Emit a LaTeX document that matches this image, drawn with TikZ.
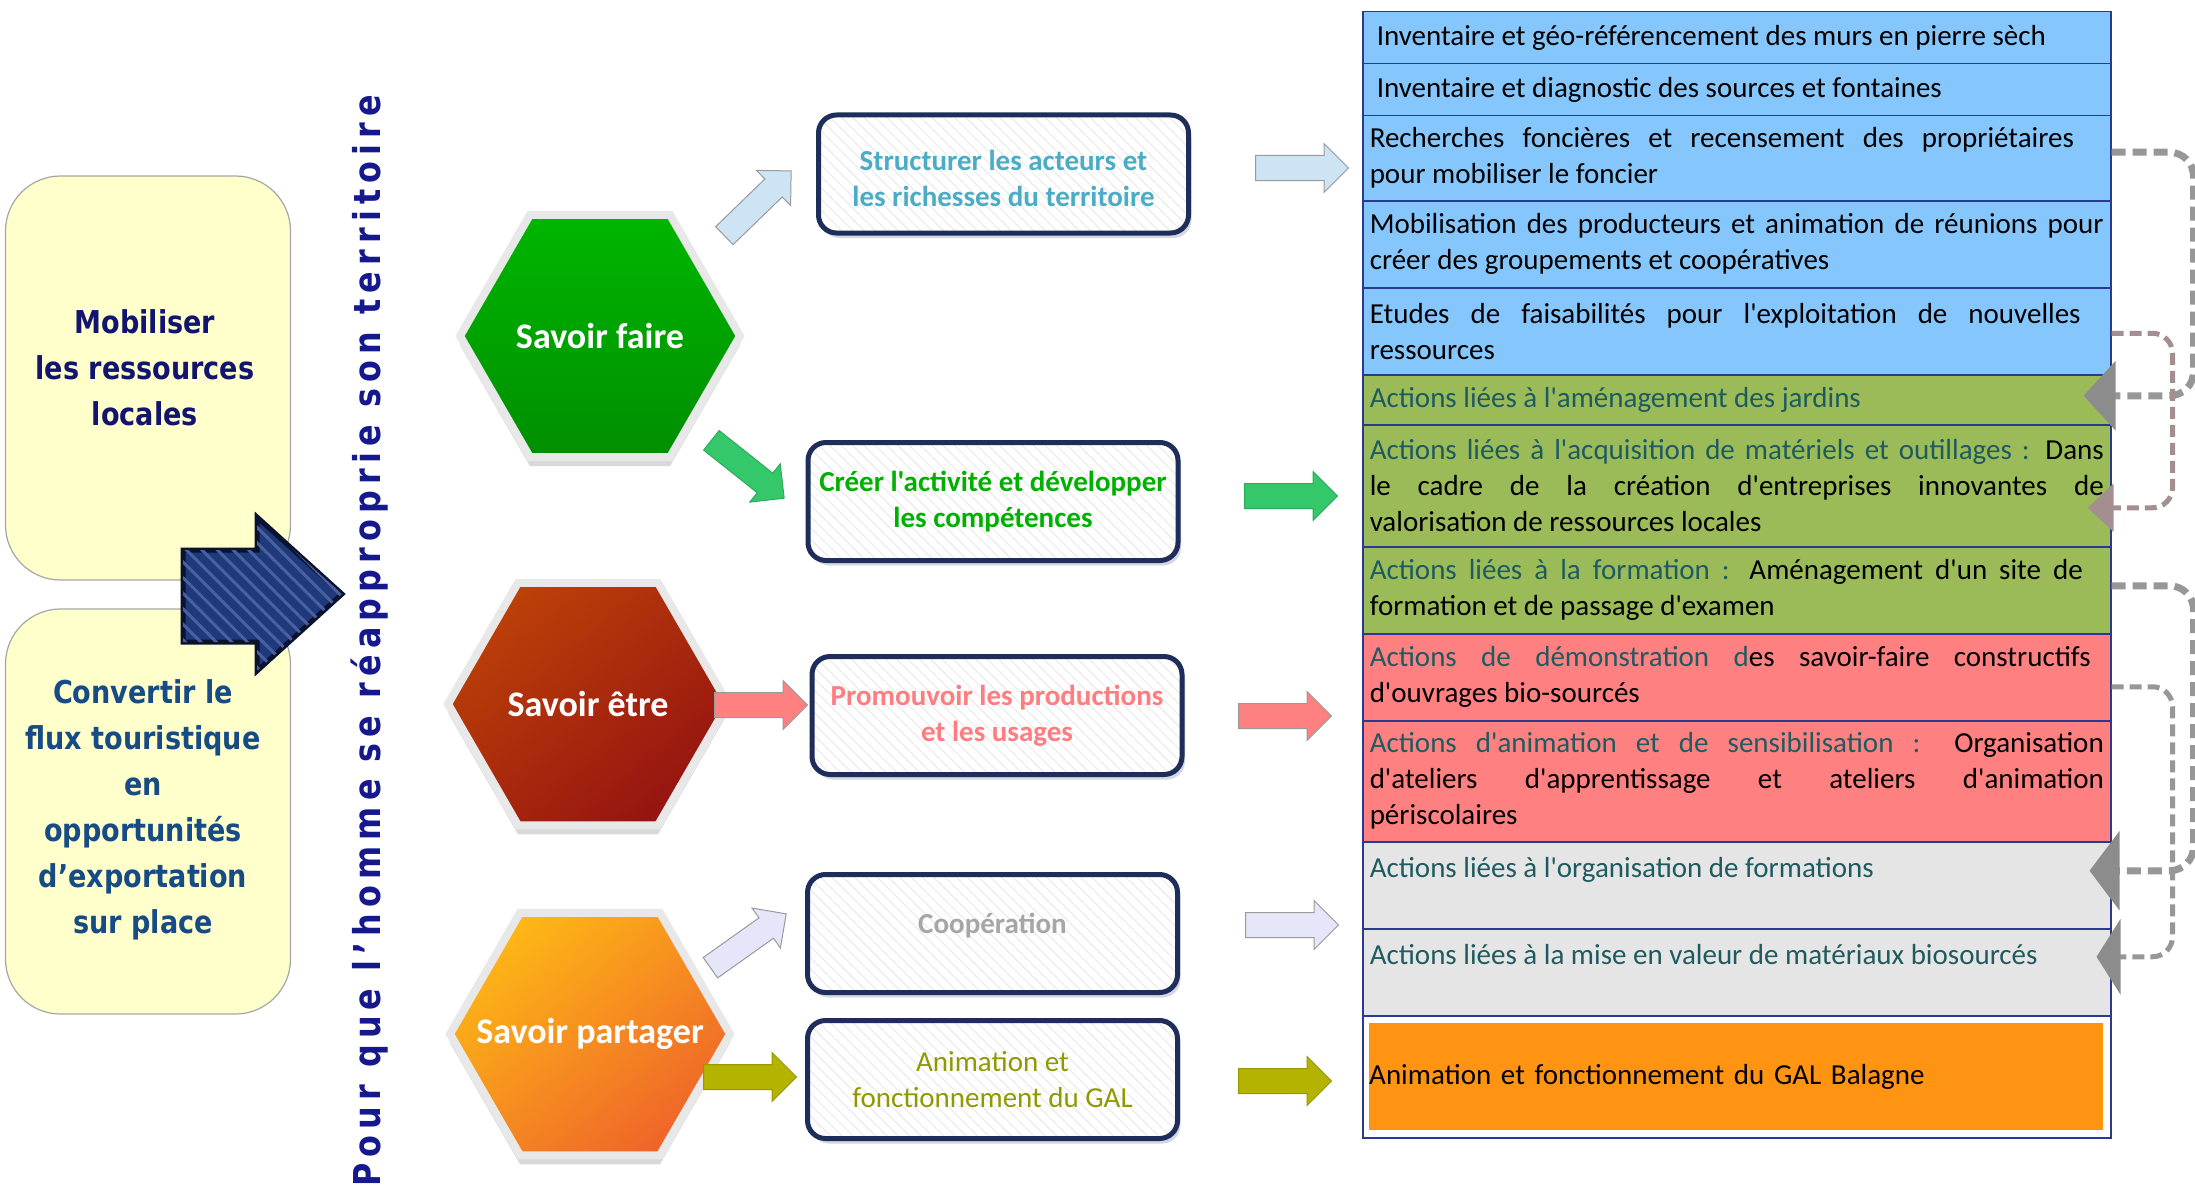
\documentclass[tikz,border=0pt]{standalone}
\usepackage{fontspec}
\setmainfont{Carlito}
\newfontfamily\calib{Carlito}
\newfontfamily\tahoma[FakeStretch=0.86]{DejaVu Sans}
\usetikzlibrary{shapes.geometric,shapes.arrows,arrows.meta,patterns.meta,shadows}
\tolerance=9000
\hyphenpenalty=10000
\exhyphenpenalty=10000
\hbadness=10000
\definecolor{bglight}{HTML}{FFFFCC}
\definecolor{leftedge}{HTML}{A6A6A6}
\definecolor{mobil}{HTML}{111570}
\definecolor{conv}{HTML}{164B85}
\definecolor{vtext}{HTML}{16198E}
\definecolor{navyfill}{HTML}{1F3A7A}
\definecolor{navystripe}{HTML}{4B60A0}
\definecolor{navyedge}{HTML}{0B1230}
\definecolor{sfTop}{HTML}{00B600}
\definecolor{sfBot}{HTML}{008E00}
\definecolor{seTop}{HTML}{BC4008}
\definecolor{seBot}{HTML}{961411}
\definecolor{spTop}{HTML}{FDB716}
\definecolor{spBot}{HTML}{EF6529}
\definecolor{boxedge}{HTML}{1F2D5A}
\definecolor{shadowc}{HTML}{7080A0}
\definecolor{cStruct}{HTML}{4BACC6}
\definecolor{cCreer}{HTML}{00B000}
\definecolor{cProm}{HTML}{FF7C80}
\definecolor{cCoop}{HTML}{A6A6A6}
\definecolor{cAnim}{HTML}{909A00}
\definecolor{aBlue}{HTML}{CDE4F4}
\definecolor{aGreen}{HTML}{35C86B}
\definecolor{aSalm}{HTML}{FF8080}
\definecolor{aLav}{HTML}{E6E6FA}
\definecolor{aOlive}{HTML}{B3B300}
\definecolor{arredge}{HTML}{9A9A9A}
\definecolor{rowblue}{HTML}{85C6FD}
\definecolor{rowgreen}{HTML}{9BBB59}
\definecolor{rowred}{HTML}{FF8080}
\definecolor{rowgray}{HTML}{E5E5E5}
\definecolor{roworange}{HTML}{FF9412}
\definecolor{tabedge}{HTML}{2B3990}
\definecolor{tealc}{HTML}{1E5B60}
\definecolor{dgray}{HTML}{979797}
\definecolor{dhead}{HTML}{8C8C8C}
\definecolor{drose}{HTML}{A38F8F}
\tikzset{
  leftbox/.style={rectangle, rounded corners=55, draw=leftedge, line width=1.2, fill=bglight},
  lefttxt/.style={align=center, inner sep=0, font=\tahoma\bfseries\fontsize{31.5}{46}\selectfont},
  hexa/.style={regular polygon, regular polygon sides=6, minimum size=280, inner sep=0,
    draw=black!9, line width=8,
    drop shadow={shadow xshift=0pt, shadow yshift=-9pt, opacity=.15, fill=black}},
  hextxt/.style={text=white, inner sep=0, font=\calib\bfseries\fontsize{36}{42}\selectfont},
  midbox/.style={rectangle, rounded corners=18, line width=5,
    minimum width=370, minimum height=118, inner sep=2, align=center,
    font=\calib\bfseries\fontsize{29}{36}\selectfont,
    drop shadow={shadow xshift=3pt, shadow yshift=-5pt, opacity=.3, fill=shadowc},
    preaction={fill=white},
    pattern={Lines[angle=-45,distance=8pt,line width=1.1pt]}, pattern color=black!8,
    draw=boxedge},
  barr/.style={single arrow, minimum height=93, text height=12pt, text depth=12pt, text width=0pt,
    single arrow head extend=12, single arrow tip angle=90, inner sep=0, anchor=tail,
    draw=arredge, line width=1},
  trow/.style={rectangle, draw=tabedge, line width=1.5, anchor=north west, inner xsep=7, inner ysep=0,
    text width=734, align=justify, font=\calib\fontsize{29}{36}\selectfont},
  dconA/.style={draw=dgray, line width=7, dash pattern=on 14pt off 7pt, rounded corners=24},
  dconB/.style={draw=#1, line width=5, dash pattern=on 12pt off 6pt, rounded corners=20},
}
\begin{document}
\begin{tikzpicture}[x=1pt,y=-1pt]
\useasboundingbox (0,0) rectangle (2195,1188);
\fill[white] (0,0) rectangle (2195,1188);

% left boxes
\node[leftbox, minimum width=285, minimum height=404] (lb1) at (148,378) {};
\node[leftbox, minimum width=285, minimum height=405] (lb2) at (148,811.5) {};
\node[lefttxt, text=mobil] (lt1) at (145,368) {Mobiliser\\les ressources\\locales};
\node[lefttxt, text=conv] (lt2) at (143,809.5) {Convertir le\\flux touristique\\en\\opportunités\\d’exportation\\sur place};

% big navy arrow
\path[draw=navyedge, line width=5, line join=miter, fill=navyfill,
  postaction={pattern={Lines[angle=-45,distance=11pt,line width=3pt]}, pattern color=navystripe}]
  (183,550) -- (257,550) -- (257,517) -- (342,594) -- (257,671) -- (257,642) -- (183,642) -- cycle;

% vertical text
\node[rotate=90, anchor=base, inner sep=0, text=vtext,
  font=\tahoma\bfseries\fontsize{37}{44}\selectfont\addfontfeature{LetterSpace=16.5}] (vt) at (380,641)
  {Pour que l’homme se réapproprie son territoire};

% hexagons
\node[hexa, top color=sfTop, bottom color=sfBot] (sf) at (600,336) {};
\node[hexa, top color=seTop, bottom color=seBot, shading angle=40] (se) at (588,704) {};
\node[hexa, top color=spTop, bottom color=spBot, shading angle=40] (sp) at (590,1034) {};
\node[hextxt] (sft) at (sf.center) {Savoir faire};
\node[hextxt] (set) at (se.center) {Savoir être};
\node[hextxt] (spt) at (sp.center) {Savoir partager};

% middle boxes
\node[midbox, text=cStruct] (b1) at (1003.5,174) {\smash{\raisebox{-14pt}{\begin{tabular}{@{}c@{}}Structurer les acteurs et\\les richesses du territoire\end{tabular}}}};
\node[midbox, text=cCreer] (b2) at (993,501.5) {Créer l'activité et développer\\les compétences};
\node[midbox, text=cProm] (b3) at (997,715.5) {Promouvoir les productions\\et les usages};
\node[midbox, text=cCoop] (b4) at (992.5,933.5) {\smash{Coopération}};
\node[midbox, text=cAnim, font=\calib\fontsize{29}{36}\selectfont] (b5) at (992.5,1079.5) {Animation et\\fonctionnement du GAL};

% block arrows hexagon -> boxes
\node[barr, fill=aBlue, rotate=44.1] (a1) at (724,236) {};
\node[barr, fill=aGreen, draw=aGreen!85!black, rotate=-38.5] (a2) at (711,440) {};
\node[barr, fill=aSalm, rotate=0] (a3) at (714,705) {};
\node[barr, fill=aLav, rotate=35.4] (a4) at (710,968) {};
\node[barr, fill=aOlive, draw=aOlive!85!black, rotate=0] (a5) at (703,1077) {};
% block arrows boxes -> table
\node[barr, fill=aBlue] (c1) at (1255,168) {};
\node[barr, fill=aGreen, draw=aGreen!85!black] (c2) at (1244,496) {};
\node[barr, fill=aSalm] (c3) at (1238,716) {};
\node[barr, fill=aLav] (c4) at (1245,925) {};
\node[barr, fill=aOlive, draw=aOlive!85!black] (c5) at (1238,1081) {};

% table
\node[trow, fill=rowblue, minimum height=52] (r1) at (1362,11) {\hspace*{7pt}Inventaire et géo-référencement des murs en pierre sèch};
\node[trow, fill=rowblue, minimum height=52] (r2) at (1362,63) {\hspace*{7pt}Inventaire et diagnostic des sources et fontaines};
\node[trow, fill=rowblue, minimum height=85] (r3) at (1362,115) {Recherches foncières et recensement des propriétaires\hspace*{30pt}\linebreak pour mobiliser le foncier};
\node[trow, fill=rowblue, minimum height=87] (r4) at (1362,200) {Mobilisation des producteurs et animation de réunions pour\linebreak créer des groupements et coopératives};
\node[trow, fill=rowblue, minimum height=87] (r5) at (1362,287) {Etudes de faisabilités pour l'exploitation de nouvelles\hspace*{23pt}\linebreak ressources};
\node[trow, fill=rowgreen, minimum height=50] (r6) at (1362,374) {\textcolor{tealc}{Actions liées à l'aménagement des jardins}};
\node[trow, fill=rowgreen, minimum height=122] (r7) at (1362,424) {{\color{tealc}Actions liées à l'acquisition de matériels et outillages :} Dans\linebreak le cadre de la création d'entreprises innovantes de\linebreak valorisation de ressources locales};
\node[trow, fill=rowgreen, minimum height=87] (r8) at (1362,546) {{\color{tealc}Actions liées à la formation :} Aménagement d'un site de\hspace*{21pt}\linebreak formation et de passage d'examen};
\node[trow, fill=rowred, minimum height=87] (r9) at (1362,633) {{\color{tealc}Actions de démonstration d}es savoir-faire constructifs\hspace*{13pt}\linebreak d'ouvrages bio-sourcés};
\node[trow, fill=rowred, minimum height=121] (r10) at (1362,720) {{\color{tealc}Actions d'animation et de sensibilisation :} Organisation\linebreak d'ateliers d'apprentissage et ateliers d'animation\linebreak périscolaires};
\node[trow, fill=rowgray, minimum height=87] (r11) at (1362,841) {\textcolor{tealc}{Actions liées à l'organisation de formations}\\ \mbox{}};
\node[trow, fill=rowgray, minimum height=87] (r12) at (1362,928) {\textcolor{tealc}{Actions liées à la mise en valeur de matériaux biosourcés}\\ \mbox{}};
\node[trow, fill=white, minimum height=122] (r13) at (1362,1015) {};
\node[rectangle, fill=roworange, anchor=north west, minimum width=734, minimum height=107, inner xsep=0,
  text width=734, align=left, font=\calib\fontsize{29}{36}\selectfont] (r13o) at (1369,1023)
  {Animation et fonctionnement du GAL Balagne};

% dashed connectors
\draw[dconA, -{Triangle[length=32pt,width=68pt,fill=dhead,color=dhead]}]
  ([yshift=6pt]r3.east) -- ++(82,0) |- ([xshift=-28pt,yshift=4pt]r6.east);
\draw[dconB=drose, -{Triangle[length=26pt,width=47pt,fill=drose,color=drose]}]
  ([yshift=-2pt]r5.east) -- ++(61,0) |- ([xshift=-24pt,yshift=-22pt]r7.east);
\draw[dconA, -{Triangle[length=30pt,width=78pt,fill=dhead,color=dhead]}]
  ([yshift=4.5pt]r8.east) -- ++(82,0) |- ([xshift=-22pt,yshift=14.5pt]r11.east);
\draw[dconB=dgray, -{Triangle[length=24pt,width=75pt,fill=dhead,color=dhead]}]
  ([yshift=-9.5pt]r9.east) -- ++(61,0) |- ([xshift=-15pt,yshift=15.5pt]r12.east);
\end{tikzpicture}
\end{document}
